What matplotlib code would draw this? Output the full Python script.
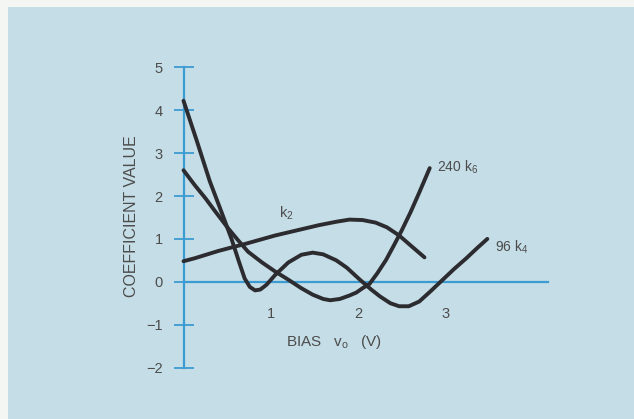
import matplotlib.pyplot as plt
from matplotlib.patches import Rectangle

# curves (bias in V, coefficient value)
x_k4 = [0, 0.15, 0.30, 0.44, 0.55, 0.63, 0.70, 0.76, 0.82, 0.88, 0.95, 1.05, 1.2, 1.35, 1.48,
        1.6, 1.75, 1.87, 2.02, 2.15, 2.25, 2.37, 2.47, 2.58, 2.70, 2.83, 2.97, 3.1, 3.24, 3.36, 3.48]
y_k4 = [4.22, 3.3, 2.35, 1.6, 1.0, 0.5, 0.08, -0.12, -0.2, -0.18, -0.07, 0.16, 0.45, 0.63, 0.68,
        0.64, 0.5, 0.33, 0.05, -0.18, -0.34, -0.5, -0.57, -0.57, -0.46, -0.22, 0.05, 0.3, 0.55, 0.78, 1.0]

x_k6 = [0, 0.13, 0.25, 0.36, 0.51, 0.62, 0.74, 0.9, 1.05, 1.2, 1.35, 1.48, 1.6, 1.68, 1.79,
        1.9, 1.98, 2.05, 2.13, 2.22, 2.32, 2.41, 2.5, 2.6, 2.7, 2.82]
y_k6 = [2.6, 2.25, 1.95, 1.65, 1.25, 0.98, 0.70, 0.45, 0.24, 0.05, -0.15, -0.3, -0.4, -0.43, -0.4,
        -0.32, -0.25, -0.15, -0.05, 0.2, 0.51, 0.85, 1.2, 1.62, 2.08, 2.65]

x_k2 = [0, 0.13, 0.4, 0.7, 1.05, 1.3, 1.55, 1.75, 1.9, 2.05, 2.2, 2.33, 2.47, 2.6, 2.76]
y_k2 = [0.48, 0.55, 0.72, 0.88, 1.08, 1.2, 1.32, 1.4, 1.45, 1.44, 1.38, 1.27, 1.08, 0.85, 0.57]

yticks = [5, 4, 3, 2, 1, 0, -1, -2]
xticks = [1, 2, 3]

plt.rcParams['font.family'] = ['Liberation Sans', 'DejaVu Sans']
plt.rcParams['mathtext.fontset'] = 'custom'
plt.rcParams['mathtext.rm'] = 'Liberation Sans'
plt.rcParams['mathtext.it'] = 'Liberation Sans'

bg = '#c5dde6'
blue = '#3d9bd3'
ink = '#2b2b30'
txt = '#4c4c4c'

fig = plt.figure(figsize=(6.34, 4.19), dpi=100, facecolor='#f4f6f4')
ax = fig.add_axes([0, 0, 1, 1])
ax.patch.set_visible(False)
ax.add_patch(Rectangle((8 / 634, 0), 1, 1 - 7 / 419, transform=ax.transAxes,
                       facecolor=bg, edgecolor='none', zorder=0, clip_on=False))
ax.set_xlim(-2.102, 5.160)
ax.set_ylim(-3.198, 6.569)

for s in ['top', 'right']:
    ax.spines[s].set_visible(False)
ax.spines['left'].set_position(('data', 0))
ax.spines['bottom'].set_position(('data', 0))
ax.spines['left'].set_bounds(-2, 5)
ax.spines['bottom'].set_bounds(0, 4.17)
for s in ['left', 'bottom']:
    ax.spines[s].set_color(blue)
    ax.spines[s].set_linewidth(1.6)
    ax.spines[s].set_zorder(1)

ax.set_yticks(yticks)
ax.set_yticklabels([str(v).replace('-', '\u2212') for v in yticks])
ax.tick_params(axis='y', direction='inout', length=14, width=1.3, color=blue,
               labelsize=10.5, labelcolor=txt, pad=8)
ax.set_xticks(xticks)
ax.set_xticklabels([str(v) for v in xticks])
ax.tick_params(axis='x', length=0, labelsize=10.5, labelcolor=txt, pad=18)

ax.plot(x_k4, y_k4, color=ink, lw=2.8, solid_capstyle='round', solid_joinstyle='round', zorder=3)
ax.plot(x_k6, y_k6, color=ink, lw=2.8, solid_capstyle='round', solid_joinstyle='round', zorder=3)
ax.plot(x_k2, y_k2, color=ink, lw=2.8, solid_capstyle='round', solid_joinstyle='round', zorder=3)

ax.text(1.18, 1.6, r'k$_\mathregular{2}$', fontsize=10.5, color=txt, ha='center', va='center')
ax.text(2.90, 2.67, r'240 k$_\mathregular{6}$', fontsize=10, color=txt, ha='left', va='center')
ax.text(3.57, 0.81, r'96 k$_\mathregular{4}$', fontsize=10, color=txt, ha='left', va='center')

ax.text(-0.6, 1.53, 'COEFFICIENT VALUE', rotation=90, fontsize=11.5, color=txt,
        ha='center', va='center')
ax.text(1.72, -1.4, r'BIAS   v$_\mathregular{o}$   (V)', fontsize=11, color=txt,
        ha='center', va='center')

fig.savefig('out.png', dpi=100, facecolor=fig.get_facecolor())
